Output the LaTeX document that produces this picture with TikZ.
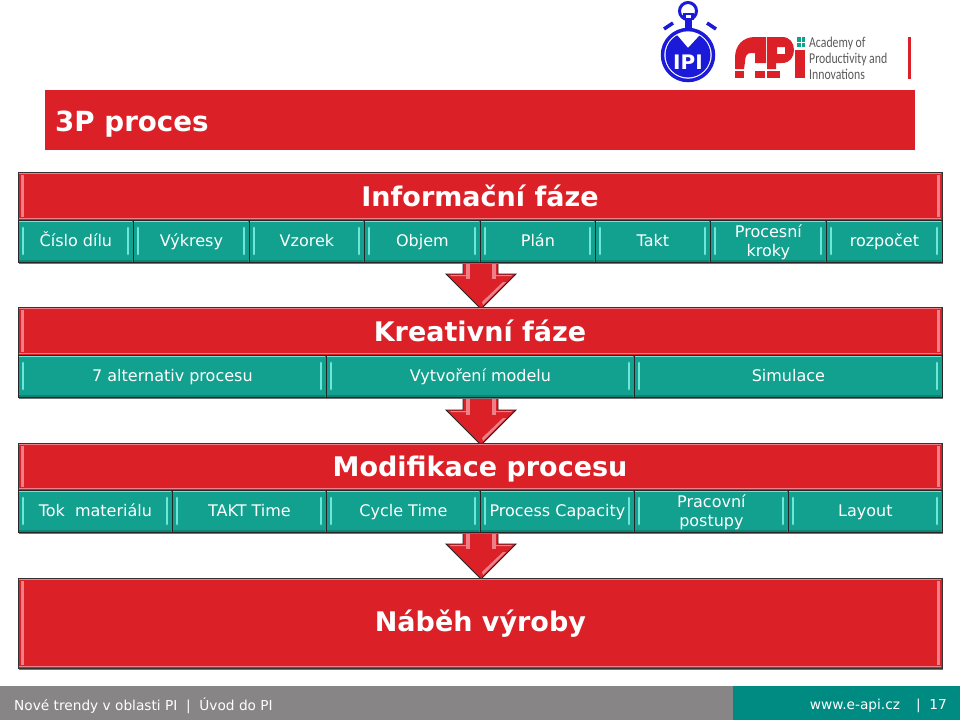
\documentclass[tikz,border=0pt]{standalone}
\usepackage{fontspec}
\setmainfont{DejaVu Sans}
\newfontfamily\logofont{Carlito}
\definecolor{apired}{HTML}{DC2028}
\definecolor{apiredlight}{HTML}{F08088}
\definecolor{apiteal}{HTML}{12A08F}
\definecolor{apitealdark}{HTML}{0E8377}
\definecolor{apitealight}{HTML}{6FE6DA}
\definecolor{footteal}{HTML}{008B82}
\definecolor{footgray}{HTML}{878585}
\definecolor{ipiblue}{HTML}{1A1AD8}
\tikzset{
  heading/.style={text=white,inner sep=0pt,text height=20pt,text depth=0pt,font=\bfseries\fontsize{27}{27}\selectfont},
  redband/.style={heading,text depth=3pt,draw=black!80,fill=apired,line width=0.8pt,anchor=north west},
  tealcell/.style={draw=black!85,fill=apiteal,line width=0.8pt,anchor=north west,inner sep=0pt,text=white,align=center,font=\fontsize{16}{18.5}\selectfont},
  foottext/.style={inner sep=0pt,text=white,font=\fontsize{13.7}{14}\selectfont},
  gleam/.style={line width=2.6pt,line cap=round},
}
% #1 name, #2 left, #3 top, #4 width, #5 height, #6 text
\newcommand{\CELL}[6]{
  \fill[black!55] (#2+1,#3+1.5) rectangle ++(#4,#5);
  \node[tealcell,minimum width=#4pt,minimum height=#5pt] (#1) at (#2,#3) {\rule[-4pt]{0pt}{19pt}#6};
  \draw[apitealight,line width=1pt] (#2+1,#3+1.2) -- ++(#4-2,0);
  \draw[apitealdark,line width=1.4pt] (#2+1,#3+#5-1.2) -- ++(#4-2,0);
  \draw[apitealight,gleam] (#2+5,#3+8) -- ++(0,#5-16);
  \draw[apitealight,gleam] (#2+#4-5,#3+8) -- ++(0,#5-16);
}
\newcommand{\BAND}[6]{
  \fill[black!55] (#2+1,#3+1.5) rectangle ++(#4,#5);
  \node[redband,minimum width=#4pt,minimum height=#5pt] (#1) at (#2,#3) {#6};
  \draw[apiredlight,line width=1.5pt] (#2+1,#3+1.5) -- ++(#4-2,0);
  \draw[apiredlight,line width=1.5pt] (#2+1,#3+#5-1.5) -- ++(#4-2,0);
  \draw[apiredlight,line width=3pt] (#2+4,#3+3) -- ++(0,#5-6);
  \draw[apiredlight,line width=3pt] (#2+#4-4,#3+3) -- ++(0,#5-6);
}
% #1 top of the shaft
\newcommand{\DOWNARROW}[1]{
  \draw[black!85,fill=apired,line width=0.8pt,line join=miter] (463,#1) -- (463,#1+12) -- (446,#1+12) -- (481,#1+47) -- (516,#1+12) -- (498,#1+12) -- (498,#1) -- cycle;
  \fill[apiredlight] (466,#1) rectangle (470,#1+17);
  \fill[apiredlight] (492,#1) rectangle (496,#1+17);
  \fill[apiredlight] (450,#1+13) -- (466,#1+13) -- (466,#1+14) -- (451,#1+14) -- cycle;
  \fill[apiredlight] (496,#1+13) -- (512,#1+13) -- (511,#1+14) -- (496,#1+14) -- cycle;
  \fill[apiredlight] (506,#1+20) -- (483,#1+43) -- (482,#1+40) -- (503,#1+20) -- cycle;
}
\begin{document}
\begin{tikzpicture}[x=1pt,y=-1pt]
\useasboundingbox (0,0) rectangle (960,720);

% logos
\draw[ipiblue,line width=3pt] (688,11) circle (8.5);
\fill[ipiblue] (683,13) rectangle (694,20);
\fill[ipiblue] (685,20) rectangle (692,30);
\fill[white] (686,15) rectangle (691,18);
\draw[ipiblue,line width=3.5pt] (664,29) -- (673,23);
\draw[ipiblue,line width=3.5pt] (707,23) -- (716,29);
\draw[ipiblue,line width=3.5pt] (688,55) circle (25.5);
\begin{scope}
\clip (688,55) circle (22.5);
\fill[ipiblue] (660,44) -- (677,35) -- (688,48) -- (700,35) -- (716,44) -- (716,80) -- (660,80) -- cycle;
\end{scope}
\node[text=white,inner sep=0pt,font=\bfseries\fontsize{20}{20}\selectfont] (ipilogo) at (688,62) {IPI};

\fill[apired] (735,69) -- (735,58) .. controls (735,45) and (743,37) .. (755,37) -- (766,37) -- (766,63) -- (755,63) -- (755,53) -- (751,53) .. controls (747,53) and (745,56) .. (745,62) -- (744,69) -- cycle;
\fill[apired] (735,71) rectangle (744,78);
\fill[apired] (755,71) rectangle (765,78);
\fill[apired] (767,71) rectangle (780,78);
\fill[apired,even odd rule] (767,69) -- (767,37) -- (782,37) .. controls (790,37) and (794,43) .. (794,50) .. controls (794,57) and (790,63) .. (782,63) -- (776,63) -- (776,69) -- cycle (777,47) rectangle (785,54);
\fill[apired] (795,50) rectangle (805,78);
\fill[apiteal] (797,37) rectangle (805,47);
\draw[white,line width=0.6pt] (801,37) -- (801,47) (797,42) -- (805,42);
\node[anchor=west,inner sep=0pt,xscale=0.785,transform shape,align=left,text=black!65,font=\logofont\fontsize{15}{16}\selectfont] (apilogo) at (809,58) {Academy of\\Productivity and\\Innovations};
\fill[apired] (908,37) rectangle (911,79);

% title
\fill[apired] (45,90) rectangle (915,150);
\node[heading,anchor=west,font=\bfseries\fontsize{27.7}{27.7}\selectfont] (title) at (55,121) {3P proces};

% arrows
\DOWNARROW{262}
\DOWNARROW{398}
\DOWNARROW{532}

% informacni faze
\BAND{informacni}{18}{172}{924}{48}{}
\node[heading] (informacnitext) at (480,196) {Informační fáze};
\CELL{cislo}{18}{220}{115}{42}{Číslo dílu}
\CELL{vykresy}{133}{220}{116}{42}{Výkresy}
\CELL{vzorek}{249}{220}{115}{42}{Vzorek}
\CELL{objem}{364}{220}{116}{42}{Objem}
\CELL{plan}{480}{220}{115}{42}{Plán}
\CELL{takt}{595}{220}{115}{42}{Takt}
\CELL{kroky}{710}{220}{116}{42}{Procesní\\kroky}
\CELL{rozpocet}{826}{220}{116}{42}{rozpočet}

% kreativni faze
\BAND{kreativni}{18}{307}{924}{48}{}
\node[heading] (kreativnitext) at (480,331) {Kreativní fáze};
\CELL{alternativ}{18}{355}{308}{42}{7 alternativ procesu}
\CELL{model}{326}{355}{308}{42}{Vytvoření modelu}
\CELL{simulace}{634}{355}{308}{42}{Simulace}

% modifikace procesu
\BAND{modifikace}{18}{443}{924}{47}{}
\node[heading] (modifikacetext) at (480,466) {Modifikace procesu};
\CELL{tok}{18}{490}{154}{42}{Tok\ \ materiálu}
\CELL{taktime}{172}{490}{154}{42}{TAKT Time}
\CELL{cycle}{326}{490}{154}{42}{Cycle Time}
\CELL{capacity}{480}{490}{154}{42}{Process Capacity}
\CELL{postupy}{634}{490}{154}{42}{Pracovní\\postupy}
\CELL{layout}{788}{490}{154}{42}{Layout}

% nabeh vyroby
\BAND{nabeh}{18}{578}{924}{90}{Náběh výroby}

% footer
\fill[footgray] (0,686) rectangle (733,720);
\fill[footteal] (733,686) rectangle (960,720);
\node[foottext,anchor=west] (footleft) at (14,706) {Nové trendy v oblasti PI\ \ |\ \ Úvod do PI};
\node[foottext,anchor=east] (footright) at (947,706) {www.e-api.cz\hspace{3pt}\ \ \ |\ \ 17};
\end{tikzpicture}
\end{document}
